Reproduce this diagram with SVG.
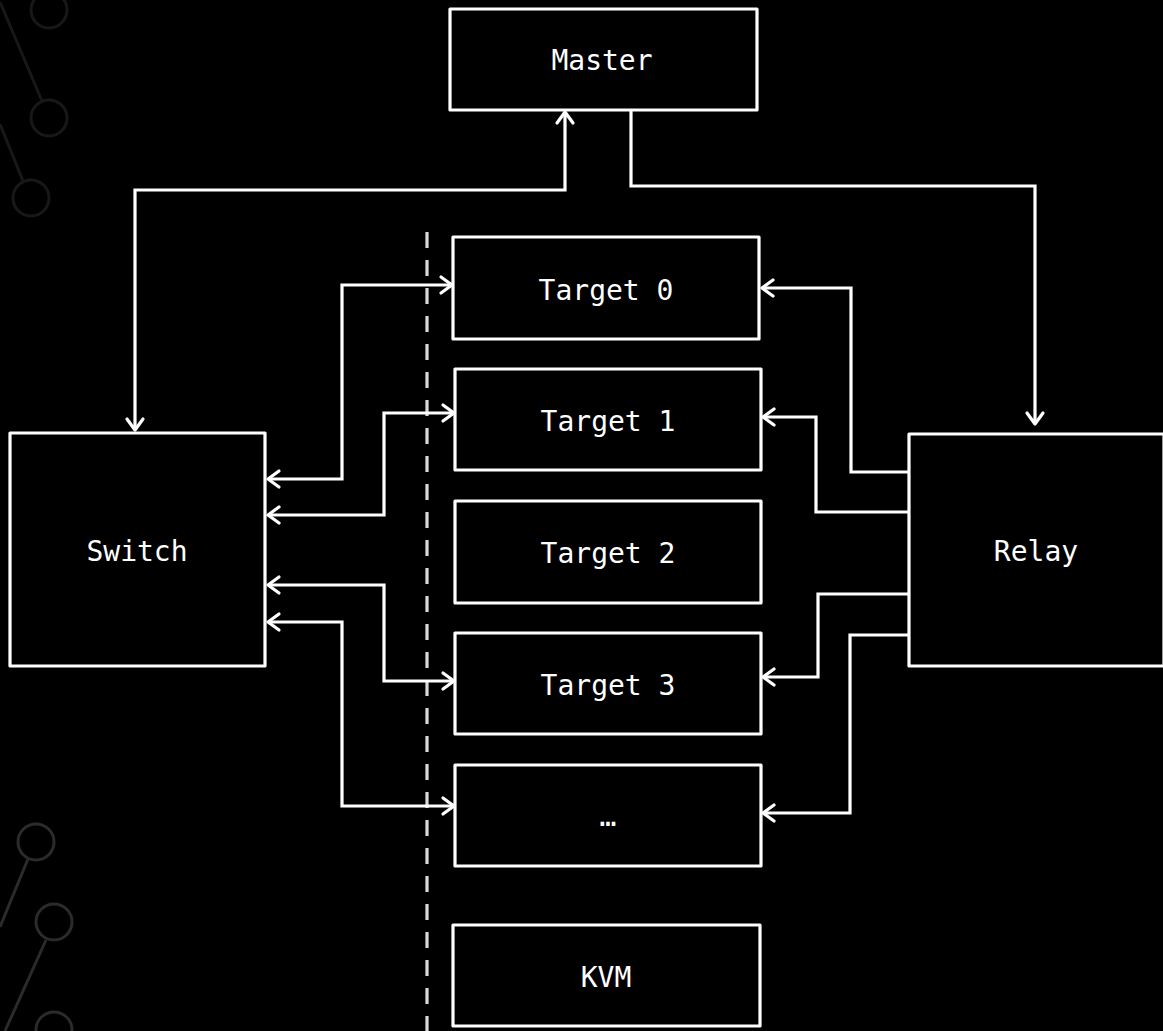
<svg xmlns="http://www.w3.org/2000/svg" width="1163" height="1031" viewBox="0 0 1163 1031">
  <style>
    .box { fill: #000; stroke: #fff; stroke-width: 3.2; stroke-linejoin: round; }
    .lbl { fill: #fff; font-family: "DejaVu Sans Mono", "Liberation Mono", monospace; font-size: 28px; text-anchor: middle; }
    .wire { fill: none; stroke: #fff; stroke-width: 3.2; stroke-linejoin: miter; }
    .deco { fill: none; stroke-width: 3; }
  </style>
  <defs>
    <marker id="arrow" markerUnits="userSpaceOnUse" markerWidth="20" markerHeight="20" refX="0" refY="0" viewBox="-12 -10 14 20" orient="auto-start-reverse" overflow="visible">
      <path d="M -11 -8 L 0 0 L -11 8" fill="none" stroke="#fff" stroke-width="3.2" stroke-linecap="round" stroke-linejoin="round"/>
    </marker>
  </defs>

  <rect width="1163" height="1031" fill="#000"/>

  <!-- background circuit ornaments -->
  <g id="ornament-top" class="deco" stroke="#181818">
    <circle cx="49" cy="10" r="18"/>
    <line x1="0" y1="2" x2="42" y2="101"/>
    <circle cx="49" cy="118" r="18"/>
    <line x1="0" y1="124" x2="23" y2="181"/>
    <circle cx="31" cy="198" r="18"/>
  </g>
  <g id="ornament-bottom" class="deco" stroke="#2b2b2b">
    <circle cx="36" cy="842" r="18"/>
    <line x1="28" y1="859" x2="0" y2="927"/>
    <circle cx="54" cy="922" r="18"/>
    <line x1="46" y1="940" x2="5" y2="1031"/>
    <circle cx="54" cy="1030" r="18"/>
  </g>

  <!-- boundary between hosts and targets -->
  <line id="divider" x1="427" y1="232" x2="427" y2="1031" stroke="#d9d9d9" stroke-width="3.2" stroke-dasharray="16 12"/>

  <g id="connectors">
    <path class="wire" d="M135,430 V190 H565 V112" marker-start="url(#arrow)" marker-end="url(#arrow)"/>
    <path class="wire" d="M631,110 V186 H1035 V424" marker-end="url(#arrow)"/>

    <path class="wire" d="M268,479 H342 V285 H452" marker-start="url(#arrow)" marker-end="url(#arrow)"/>
    <path class="wire" d="M268,515 H384 V413 H454" marker-start="url(#arrow)" marker-end="url(#arrow)"/>
    <path class="wire" d="M268,585 H384 V681 H454" marker-start="url(#arrow)" marker-end="url(#arrow)"/>
    <path class="wire" d="M268,622 H342 V806 H454" marker-start="url(#arrow)" marker-end="url(#arrow)"/>

    <path class="wire" d="M908,472 H851 V288 H762" marker-end="url(#arrow)"/>
    <path class="wire" d="M908,512 H816 V417 H763" marker-end="url(#arrow)"/>
    <path class="wire" d="M908,594 H818 V677 H763" marker-end="url(#arrow)"/>
    <path class="wire" d="M908,635 H850 V813 H763" marker-end="url(#arrow)"/>
  </g>

  <g id="master">
    <rect class="box" x="450" y="9" width="307" height="101"/>
    <text class="lbl" x="602" y="70">Master</text>
  </g>
  <g id="switch">
    <rect class="box" x="10" y="433" width="255" height="233"/>
    <text class="lbl" x="137" y="561">Switch</text>
  </g>
  <g id="relay">
    <rect class="box" x="909" y="434" width="255" height="232"/>
    <text class="lbl" x="1036" y="561">Relay</text>
  </g>
  <g id="target0">
    <rect class="box" x="453" y="237" width="306" height="102"/>
    <text class="lbl" x="606" y="300">Target 0</text>
  </g>
  <g id="target1">
    <rect class="box" x="455" y="369" width="306" height="101"/>
    <text class="lbl" x="608" y="431">Target 1</text>
  </g>
  <g id="target2">
    <rect class="box" x="455" y="501" width="306" height="102"/>
    <text class="lbl" x="608" y="563">Target 2</text>
  </g>
  <g id="target3">
    <rect class="box" x="455" y="633" width="306" height="101"/>
    <text class="lbl" x="608" y="695">Target 3</text>
  </g>
  <g id="target-more">
    <rect class="box" x="455" y="765" width="306" height="101"/>
    <text class="lbl" x="608" y="826">…</text>
  </g>
  <g id="kvm">
    <rect class="box" x="453" y="925" width="307" height="101"/>
    <text class="lbl" x="606" y="987">KVM</text>
  </g>
</svg>
